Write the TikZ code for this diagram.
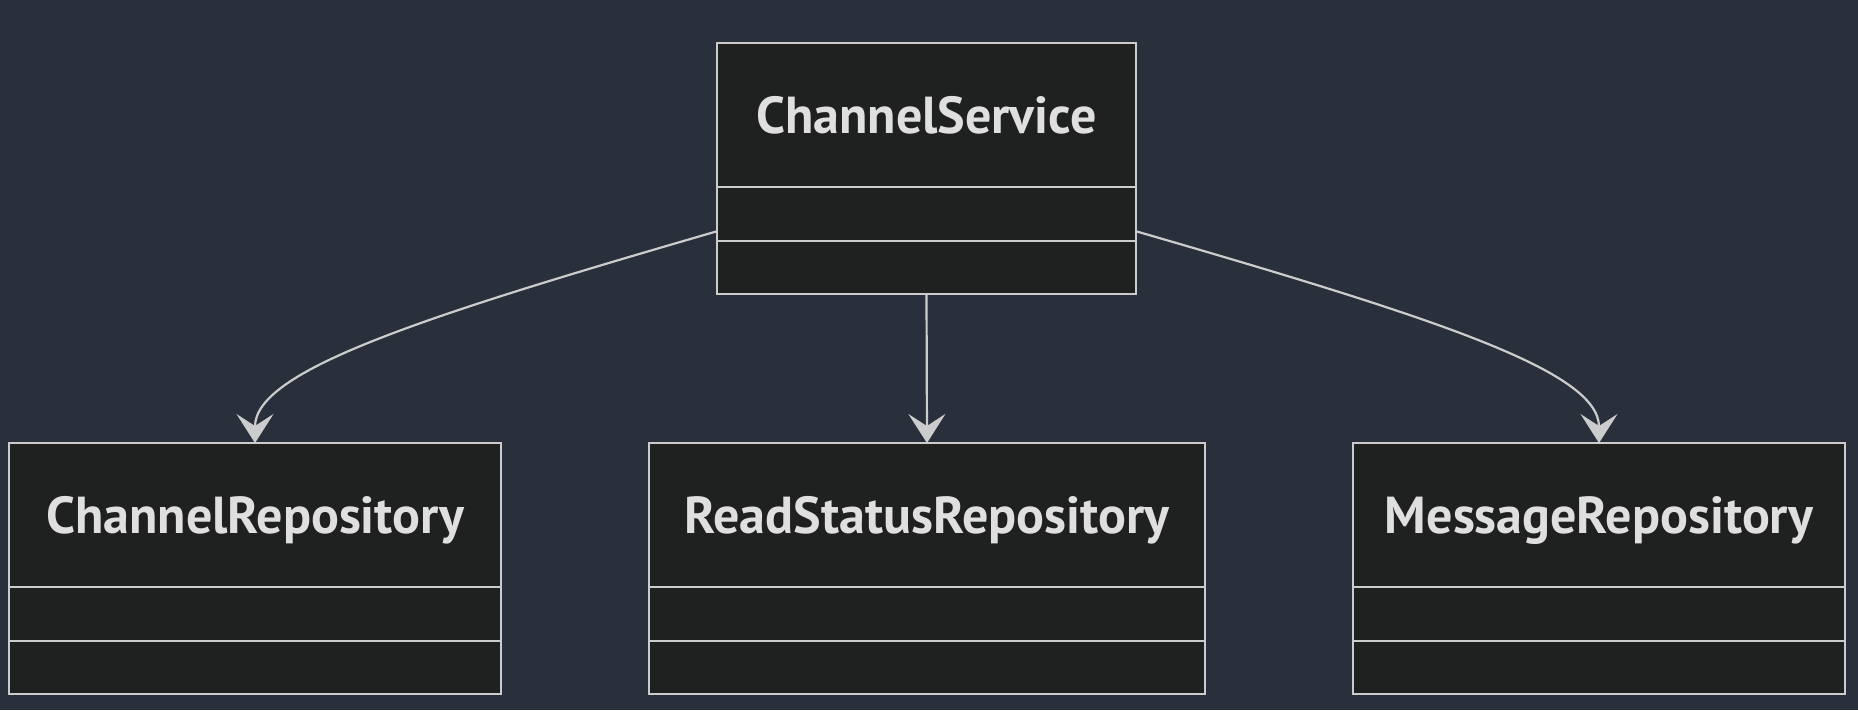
\documentclass[tikz,border=0pt]{standalone}
\usepackage{fontspec}
\setmainfont{PT Sans}
\usepackage{xcolor}
\usepackage{tikz}
\usetikzlibrary{
	arrows.meta,
	calc,
	positioning
}
\definecolor{bg}{RGB}{42,47,60}
\definecolor{boxfill}{RGB}{31,32,32}
\definecolor{border}{RGB}{204,204,204}
\definecolor{label}{RGB}{224,223,223}
\tikzset{
	classpart/.style={draw=border, fill=boxfill, line width=2.2pt, outer sep=0pt, inner sep=0pt},
	classtitle/.style={classpart, minimum height=144pt, text depth=0pt, text=label, font=\fontsize{52}{62}\selectfont\bfseries},
	dep/.style={draw=border, line width=2.2pt, -{Stealth[length=29pt, width=37pt, inset=12pt]}}
}

\begin{document}
\begin{tikzpicture}[x=1pt, y=-1pt]

	% Background
		\fill[bg] (0,0) rectangle (1858,710);
		\useasboundingbox (0,0) rectangle (1858,710);

	% Classes
		% Draws a class box: name, centre x, top y, width, title
		\newcommand\classbox[5] {
			\node[classtitle, minimum width=#4pt, anchor=north] (#1) at (#2,#3) {#5};
			\node[classpart, minimum width=#4pt, minimum height=54pt, below=0pt of #1] (#1-a) {};
			\node[classpart, minimum width=#4pt, minimum height=53pt, below=0pt of #1-a] (#1-b) {};
		}
		\classbox{cs}{926.5}{43}{419}{ChannelService}
		\classbox{cr}{255}{443}{492}{ChannelRepository}
		\classbox{rs}{927}{443}{556}{ReadStatusRepository}
		\classbox{mr}{1599}{443}{492}{MessageRepository}

	% Dependencies
		\draw[dep] ($(cs.north west)!0.75!(cs-b.south west)$) .. controls +(-300,87) and +(0,-72) .. (cr.north);
		\draw[dep] (cs-b.south) -- (rs.north);
		\draw[dep] ($(cs.north east)!0.75!(cs-b.south east)$) .. controls +(300,87) and +(0,-72) .. (mr.north);
\end{tikzpicture}
\end{document}
